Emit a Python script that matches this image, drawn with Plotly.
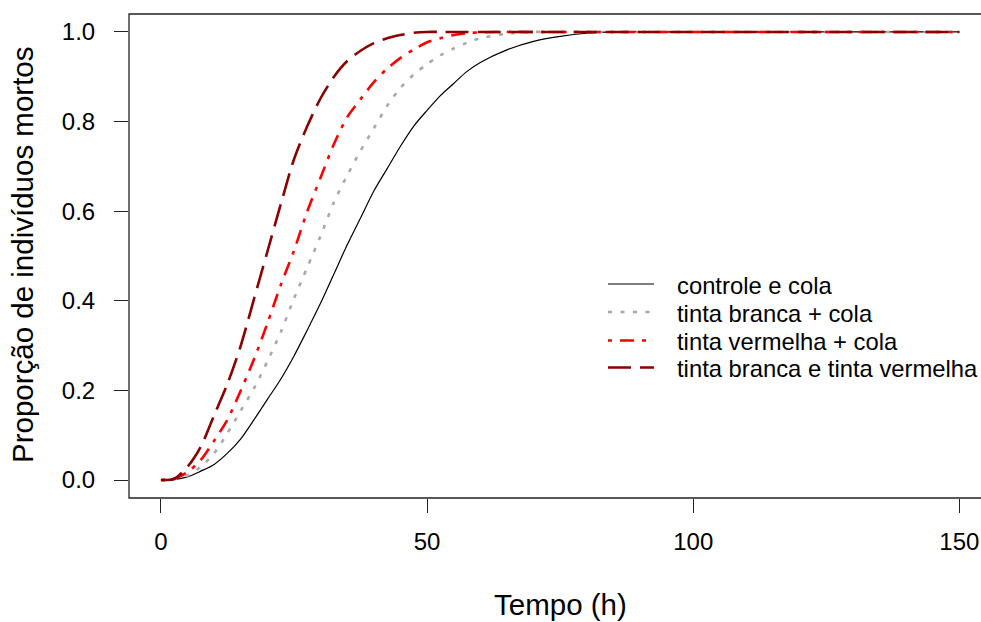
import plotly.graph_objects as go

# ---- data ----
tempo = [0, 2.5, 5, 7.5, 10, 12.5, 15, 17.5, 20, 22.5, 25, 27.5, 30, 32.5, 35,
         37.5, 40, 42.5, 45, 47.5, 50, 52.5, 55, 57.5, 60, 65, 70, 75, 80, 85,
         90, 100, 125, 150]

controle_cola = [0, .001, .007, .02, .035, .06, .092, .135, .18, .225, .277, .335,
                 .395, .46, .525, .585, .645, .695, .745, .79, .825, .858, .885,
                 .912, .932, .96, .979, .99, .997, 1, 1, 1, 1, 1]

tinta_branca_cola = [0, .002, .01, .03, .06, .105, .155, .205, .265, .33, .405,
                     .475, .545, .62, .68, .735, .785, .835, .875, .905, .928,
                     .948, .963, .976, .986, .996, 1, 1, 1, 1, 1, 1, 1, 1]

tinta_vermelha_cola = [0, .003, .018, .045, .088, .135, .2, .27, .35, .435, .512,
                       .6, .675, .75, .81, .85, .888, .918, .942, .961, .977,
                       .986, .993, .997, .999, 1, 1, 1, 1, 1, 1, 1, 1, 1]

branca_vermelha = [0, .003, .03, .075, .145, .215, .30, .405, .51, .615, .716, .79,
                   .852, .90, .935, .958, .975, .986, .993, .998, 1, 1, 1, 1, 1,
                   1, 1, 1, 1, 1, 1, 1, 1, 1]

nomes = ["controle e cola", "tinta branca + cola", "tinta vermelha + cola",
         "tinta branca e tinta vermelha"]
series = [controle_cola, tinta_branca_cola, tinta_vermelha_cola, branca_vermelha]

x_ticks = [0, 50, 100, 150]
y_ticks = [0.0, 0.2, 0.4, 0.6, 0.8, 1.0]
y_ticktext = ["0.0", "0.2", "0.4", "0.6", "0.8", "1.0"]

# ---- styles ----
cores = ["#000000", "#A9A9A9", "#FF0000", "#8B0000"]
larguras = [1.2, 2.6, 2.6, 2.6]
tracos = ["solid", "4px,8.5px", "4px,8px,14px,8px", "23px,9px"]

FONT = "Liberation Sans, Arial, sans-serif"
W, H = 981, 622
L, R, T, B = 129, 0, 14, 124
PW, PH = W - L - R, H - T - B


def px_x(px):
    return (px - L) / PW


def px_y(py):
    return (H - B - py) / PH


fig = go.Figure()
for nome, ys, c, w, d in zip(nomes, series, cores, larguras, tracos):
    fig.add_trace(go.Scatter(
        x=tempo, y=ys, mode="lines", name=nome,
        line=dict(color=c, width=w, dash=d, shape="spline", smoothing=0.8),
        showlegend=False, hoverinfo="x+y+name"))

shapes = [dict(type="rect", xref="paper", yref="paper",
               x0=0, x1=px_x(991), y0=0, y1=1,
               line=dict(color="#222222", width=1.3), layer="above")]
annotations = []

# manual legend (R style, no box)
leg_rows = [284, 312, 340.5, 367.5]
for nome, c, w, d, yc in zip(nomes, cores, larguras, tracos, leg_rows):
    shapes.append(dict(type="line", xref="paper", yref="paper",
                       x0=px_x(608), x1=px_x(654), y0=px_y(yc), y1=px_y(yc),
                       line=dict(color=c, width=w, dash=d)))
    annotations.append(dict(text=nome, xref="paper", yref="paper",
                            x=px_x(675), y=px_y(yc + 1), xanchor="left",
                            yanchor="middle", showarrow=False,
                            font=dict(family=FONT, size=23.8, color="black")))

# axis titles
annotations.append(dict(text="Tempo (h)", xref="x", yref="paper", x=75,
                        y=px_y(604), xanchor="center", yanchor="middle",
                        showarrow=False,
                        font=dict(family=FONT, size=29.5, color="black")))
annotations.append(dict(text="Proporção de indivíduos mortos", xref="paper",
                        yref="paper", x=px_x(23), y=px_y(255),
                        xanchor="center", yanchor="middle", textangle=-90,
                        showarrow=False,
                        font=dict(family=FONT, size=29.5, color="black")))

axis_common = dict(showgrid=False, zeroline=False, showline=False,
                   ticks="outside", ticklen=14, tickwidth=1.2,
                   tickcolor="#222222",
                   tickfont=dict(family=FONT, size=24, color="black"))

fig.update_layout(
    width=W, height=H,
    margin=dict(l=L, r=R, t=T, b=B, autoexpand=False),
    paper_bgcolor="white", plot_bgcolor="white",
    xaxis=dict(range=[-6, -6 + PW / 5.323], tickvals=x_ticks,
               ticklabelstandoff=8, **axis_common),
    yaxis=dict(range=[-0.04, 1.04], tickvals=y_ticks, ticktext=y_ticktext,
               ticklabelstandoff=14, **axis_common),
    shapes=shapes, annotations=annotations, showlegend=False,
)

fig.write_html("out.html")
